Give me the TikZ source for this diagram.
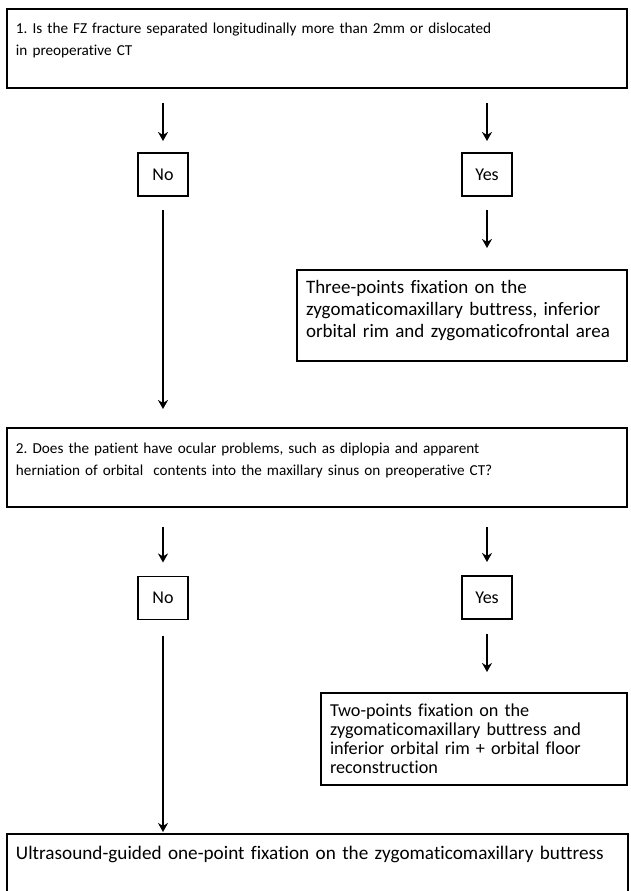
\documentclass[tikz,border=0pt]{standalone}
\usepackage{fontspec}
\setmainfont{Carlito}[Ligatures=NoCommon]
\usetikzlibrary{arrows.meta,positioning}
\frenchspacing

\tikzset{
  qbox/.style={draw, line width=1.8pt, anchor=north west, align=left, inner xsep=9pt, inner ysep=0pt, outer sep=0pt, font=\fontsize{15.2}{22}\selectfont},
  ansbox/.style={draw, line width=1.8pt, minimum width=50pt, minimum height=43pt, inner sep=0pt, outer sep=0pt, font=\fontsize{18}{20}\selectfont},
  downarrow/.style={-{Stealth[length=9pt,width=10pt]}, line width=1.6pt, shorten <=15pt},
}

\begin{document}
\begin{tikzpicture}[x=1pt,y=1pt,yscale=-1]
    \useasboundingbox (0,0) rectangle (630,891); %page is 630 wide, 891 high
    \clip (0,0) rectangle (630,891);

    % Question 1
    \node [qbox, text width=602pt, text height=25pt, text depth=54pt] (q1) at (7,9) {1. Is the FZ fracture separated longitudinally more than 2mm or dislocated\\in preoperative CT};
    % Answers 1
    \node [ansbox] (no1) at (163,174.5) {No};
    \node [ansbox] (yes1) at (487,174.5) {Yes};
    % Three-points box
    \node [qbox, font=\fontsize{19}{22}\selectfont, text width=312pt, text height=23pt, text depth=68pt] (fix3) at (297,270) {Three-points fixation on the\\zygomaticomaxillary buttress, inferior\\orbital rim and zygomaticofrontal area};

    % Question 2
    \node [qbox, text width=602pt, text height=25pt, text depth=54pt] (q2) at (7,428) {2. Does the patient have ocular problems, such as diplopia and apparent\\herniation of orbital\ \ contents into the maxillary sinus on preoperative CT?};
    % Answers 2
    \node [ansbox] (no2) at (163,598) {No};
    \node [ansbox] (yes2) at (487,597.5) {Yes};
    % Two-points box
    \node [qbox, font=\fontsize{18.2}{19}\selectfont, text width=288pt, text height=23pt, text depth=69pt] (fix2) at (321,693) {Two-points fixation on the\\zygomaticomaxillary buttress and\\inferior orbital rim + orbital floor\\reconstruction};

    % One-point box (runs off the page)
    \node [qbox, font=\fontsize{19.2}{22}\selectfont, text width=603pt, text height=25pt, text depth=68pt] (us) at (7,834) {Ultrasound-guided one-point fixation on the zygomaticomaxillary buttress};

    % Arrows
    \draw [downarrow, shorten >=12pt] (no1 |- q1.south) -- (no1.north);
    \draw [downarrow, shorten >=12pt] (yes1 |- q1.south) -- (yes1.north);
    \draw [downarrow, shorten <=14pt, shorten >=19pt] (no1.south) -- (no1 |- q2.north);
    \draw [downarrow, shorten <=14pt, shorten >=22pt] (yes1.south) -- (yes1 |- fix3.north);
    \draw [downarrow, shorten <=20pt, shorten >=14pt] (no2 |- q2.south) -- (no2.north);
    \draw [downarrow, shorten <=20pt, shorten >=14pt] (yes2 |- q2.south) -- (yes2.north);
    \draw [downarrow, shorten <=16pt, shorten >=2pt] (no2.south) -- (no2 |- us.north);
    \draw [downarrow, shorten <=15pt, shorten >=21pt] (yes2.south) -- (yes2 |- fix2.north);

\end{tikzpicture}
\end{document}
